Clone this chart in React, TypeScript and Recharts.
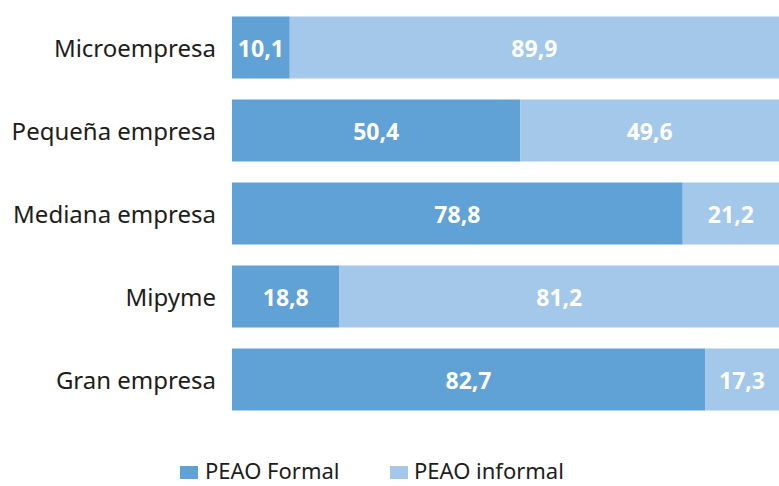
import React from "react";
import { BarChart, Bar, XAxis, YAxis, LabelList } from "recharts";

// share of employed population (PEAO) by firm size, %
const sizes = ["Microempresa", "Pequeña empresa", "Mediana empresa", "Mipyme", "Gran empresa"];
const formal = [10.1, 50.4, 78.8, 18.8, 82.7];
const informal = [89.9, 49.6, 21.2, 81.2, 17.3];
const seriesNames = ["PEAO Formal", "PEAO informal"];

const DARK = "#60a2d6";
const LIGHT = "#a3c8e9";
const FONT = "'Noto Sans', sans-serif";
const VIEW_W = 779;

const data = sizes.map((name, i) => ({ name, formal: formal[i], informal: informal[i] }));

const fmt = (v: number) => v.toFixed(1).replace(".", ",");

// value label centred on the part of the segment that is visible
const SegmentLabel = (props: any) => {
    const { x, y, width, height, value } = props;
    const right = Math.min(x + width, VIEW_W);
    return (
        <text
            x={(x + right) / 2}
            y={y + height / 2}
            textAnchor="middle"
            dominantBaseline="central"
            fill="#ffffff"
            fontFamily={FONT}
            fontWeight={700}
            fontSize={23}
        >
            {fmt(value)}
        </text>
    );
};

const SizeTick = (props: any) => {
    const { y, payload } = props;
    return (
        <text x={216} y={y} textAnchor="end" dominantBaseline="central" fill="#1d1d1b" fontFamily={FONT} fontSize={24}>
            {payload.value}
        </text>
    );
};

const legendText: React.CSSProperties = {
    position: "absolute",
    top: 462,
    fontFamily: FONT,
    fontSize: 22,
    lineHeight: "17px",
    color: "#1d1d1b",
    whiteSpace: "nowrap",
};
const legendSwatch: React.CSSProperties = { position: "absolute", top: 466, width: 18, height: 13 };

const LegendRow = () => (
    <>
        <span style={{ ...legendSwatch, left: 180, background: DARK }} />
        <span style={{ ...legendText, left: 205 }}>{seriesNames[0]}</span>
        <span style={{ ...legendSwatch, left: 390, background: LIGHT }} />
        <span style={{ ...legendText, left: 414 }}>{seriesNames[1]}</span>
    </>
);

export default function App() {
    return (
        <div style={{ position: "fixed", top: 0, left: 0, width: VIEW_W, height: 486, overflow: "hidden", background: "#fff" }}>
            <BarChart
                width={808}
                height={486}
                data={data}
                layout="vertical"
                margin={{ top: 5.5, right: 4, bottom: 65.5, left: 0 }}
                barSize={62}
            >
                <XAxis type="number" domain={[0, 100]} allowDataOverflow hide />
                <YAxis type="category" dataKey="name" width={232} axisLine={false} tickLine={false} tick={<SizeTick />} />
                <Bar dataKey="formal" name={seriesNames[0]} stackId="a" fill={DARK} isAnimationActive={false}>
                    <LabelList dataKey="formal" content={<SegmentLabel />} />
                </Bar>
                <Bar dataKey="informal" name={seriesNames[1]} stackId="a" fill={LIGHT} isAnimationActive={false}>
                    <LabelList dataKey="informal" content={<SegmentLabel />} />
                </Bar>
            </BarChart>
            <LegendRow />
        </div>
    );
}
